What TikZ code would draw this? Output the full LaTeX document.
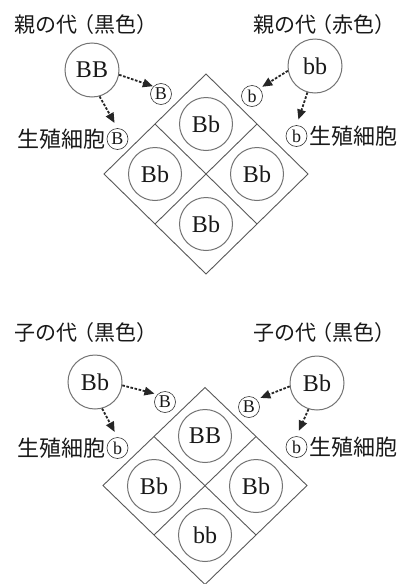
\documentclass[tikz,border=0pt]{standalone}
\usepackage{fontspec}
\setmainfont{Liberation Serif}
\newfontfamily\jp{Noto Sans CJK JP}
\usetikzlibrary{arrows.meta}
\begin{document}
\begin{tikzpicture}[x=1pt,y=-1pt,
  title/.style={font=\jp\fontsize{21}{24}\selectfont, inner sep=0pt, text=black!90},
  lab/.style={font=\jp\fontsize{22}{24}\selectfont, inner sep=0pt, text=black!90},
  gen/.style={circle, draw=black!55, line width=1pt, minimum size=54pt, inner sep=0pt,
              font=\fontsize{24}{26}\selectfont, text=black!90},
  cell/.style={gen, minimum size=53pt},
  gam/.style={circle, draw=black!80, line width=0.6pt, minimum size=21pt, inner sep=0pt,
              font=\fontsize{18}{20}\selectfont, text=black!90},
  dia/.style={draw=black!65, line width=0.9pt, line join=miter},
  arr/.style={draw=black!85, line width=1.8pt, dash pattern=on 2.6pt off 1.6pt,
              -{Triangle[length=10pt,width=8.5pt]}},
]
\useasboundingbox (0,0) rectangle (405,584);
\fill[white] (0,0) rectangle (405,584);

% ================= top panel =================
\node[title] (t1l) at (84,25) {親の代\kern-4.5pt（黒色）\kern-4.5pt};
\node[title] (t1r) at (322,25) {親の代\kern-4.5pt（赤色）\kern-4.5pt};

\node[gen] (P1) at (92,70) {BB};
\node[gen] (P2) at (315,66) {bb};

\node[gam] (g1a) at (161,94) {B};
\node[gam] (g1b) at (252,96) {b};

\node[gam] (g1c) at (117.5,139) {B};
\node[lab, anchor=east] (l1c) at ([xshift=-1.5pt]g1c.west) {生殖細胞};
\node[gam] (g1d) at (296.5,136) {b};
\node[lab, anchor=west] (l1d) at ([xshift=1.5pt]g1d.east) {生殖細胞};

\draw[arr, shorten >=0.5pt] (P1.-10) -- (g1a.north west);
\draw[arr, shorten >=6pt] (P1.-74) -- (g1c.north);
\draw[arr, shorten >=3pt] (P2.190) -- (g1b.north east);
\draw[arr, shorten >=6pt] (P2.-106) -- (g1d.north);

\coordinate (D1) at (206,174);
\draw[dia] ([yshift=-100pt]D1) -- ([xshift=102pt]D1) -- ([yshift=100pt]D1) -- ([xshift=-102pt]D1) -- cycle;
\draw[dia] ([xshift=-51pt,yshift=-50pt]D1) -- ([xshift=51pt,yshift=50pt]D1);
\draw[dia] ([xshift=51pt,yshift=-50pt]D1) -- ([xshift=-51pt,yshift=50pt]D1);

\node[cell] (c1t) at (206,124) {Bb};
\node[cell] (c1l) at (155,174) {Bb};
\node[cell] (c1r) at (257,174) {Bb};
\node[cell] (c1b) at (206,224) {Bb};

% ================= bottom panel =================
\node[title] (t2l) at (84,333) {子の代\kern-4.5pt（黒色）\kern-4.5pt};
\node[title] (t2r) at (322,333) {子の代\kern-4.5pt（黒色）\kern-4.5pt};

\node[gen] (F1) at (95,382) {Bb};
\node[gen] (F2) at (317,383) {Bb};

\node[gam] (g2a) at (165,402) {B};
\node[gam] (g2b) at (249,407) {B};

\node[gam] (g2c) at (117.5,448) {b};
\node[lab, anchor=east] (l2c) at ([xshift=-1.5pt]g2c.west) {生殖細胞};
\node[gam] (g2d) at (296.5,447) {b};
\node[lab, anchor=west] (l2d) at ([xshift=1.5pt]g2d.east) {生殖細胞};

\draw[arr, shorten >=3pt] (F1.-7) -- (g2a.north west);
\draw[arr, shorten >=6pt] (F1.-75) -- (g2c.north);
\draw[arr, shorten >=4pt] (F2.187) -- (g2b.north east);
\draw[arr, shorten >=6pt] (F2.-108) -- (g2d.north);

\coordinate (D2) at (205,485.5);
\draw[dia] ([yshift=-99pt]D2) -- ([xshift=102pt]D2) -- ([yshift=98pt]D2) -- ([xshift=-102pt]D2) -- cycle;
\draw[dia] ([xshift=-51pt,yshift=-49.5pt]D2) -- ([xshift=51pt,yshift=49pt]D2);
\draw[dia] ([xshift=51pt,yshift=-49.5pt]D2) -- ([xshift=-51pt,yshift=49pt]D2);

\node[cell] (c2t) at (205,436) {BB};
\node[cell] (c2l) at (154,486) {Bb};
\node[cell] (c2r) at (256,486) {Bb};
\node[cell] (c2b) at (205,535) {bb};
\end{tikzpicture}
\end{document}
